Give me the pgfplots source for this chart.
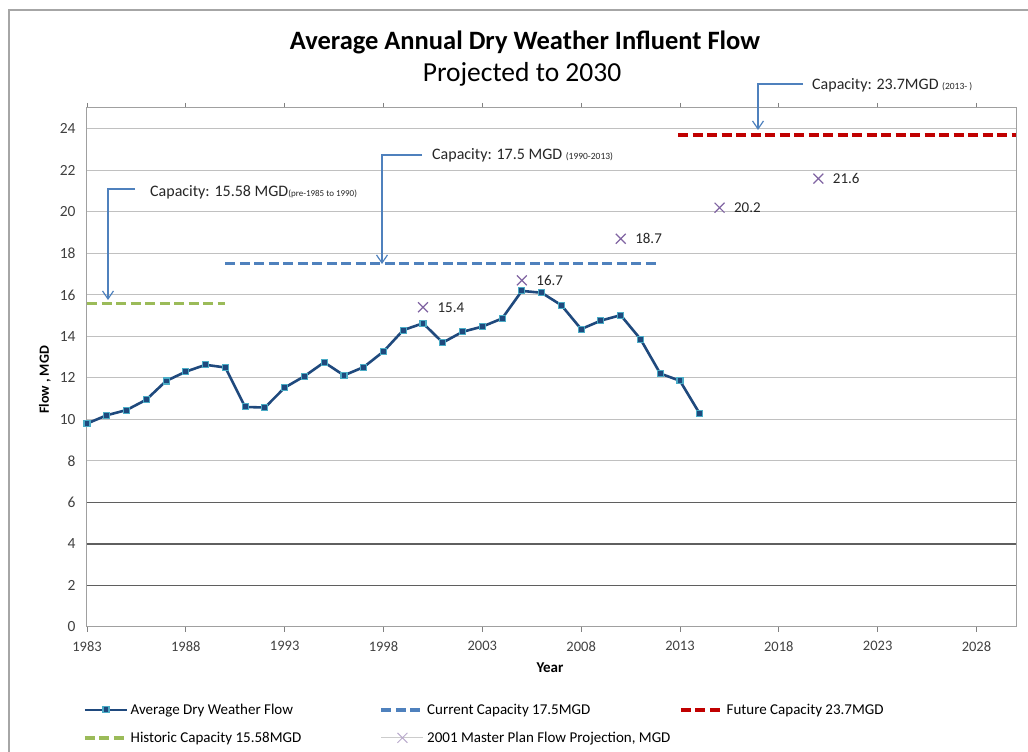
\documentclass[border=0pt]{standalone}
\usepackage{fontspec}
\setmainfont{Carlito}
\usepackage{pgfplots}
\usepackage{pgfplotstable}
\pgfplotsset{compat=1.18}
\usetikzlibrary{arrows.meta}
\definecolor{flowblue}{HTML}{1F497D}
\definecolor{markcyan}{HTML}{4BACC6}
\definecolor{capblue}{HTML}{4F81BD}
\definecolor{capred}{HTML}{C00000}
\definecolor{capgreen}{HTML}{9BBB59}
\definecolor{projpurple}{HTML}{8064A2}
\definecolor{gridgray}{HTML}{C0C0C0}
\definecolor{darkgrid}{HTML}{5F5F5F}
\definecolor{axisgray}{HTML}{A0A0A0}
\definecolor{textgray}{HTML}{404040}
\definecolor{framegray}{HTML}{A6A6A6}

\pgfplotstableread{
year flow
1983 9.80
1984 10.20
1985 10.45
1986 10.95
1987 11.85
1988 12.30
1989 12.63
1990 12.50
1991 10.60
1992 10.57
1993 11.53
1994 12.08
1995 12.75
1996 12.12
1997 12.52
1998 13.27
1999 14.30
2000 14.63
2001 13.70
2002 14.22
2003 14.47
2004 14.86
2005 16.19
2006 16.10
2007 15.50
2008 14.35
2009 14.76
2010 15.02
2011 13.87
2012 12.21
2013 11.86
2014 10.27
}\flowtable

\pgfplotstableread{
year proj
2000 15.4
2005 16.7
2010 18.7
2015 20.2
2020 21.6
}\projtable

\begin{document}
\begin{tikzpicture}[x=1pt,y=1pt]
\useasboundingbox (0,0) rectangle (1028,752);
\draw[framegray, line width=1.3pt] (9,0) -- (9,742) -- (1028,742);

\begin{axis}[
  at={(87pt,125pt)}, anchor=south west,
  scale only axis, width=929pt, height=519pt,
  xmin=1983, xmax=2030, ymin=0, ymax=25,
  xtick={1983,1988,...,2028},
  ytick={0,2,...,24},
  axis line style={draw=axisgray, line width=1pt},
  ymajorgrids, grid style={gridgray, line width=1pt},
  extra y ticks={2,4,6}, extra y tick labels={},
  extra y tick style={grid style={darkgrid, line width=1.4pt}, major tick length=0pt},
  tick align=outside, major tick length=5pt,
  xtick style={draw=gray, line width=0.8pt},
  ytick style={draw=none},
  xticklabel style={font=\fontsize{14.5}{16}\selectfont, text=textgray, yshift=-6pt},
  yticklabel style={font=\fontsize{15.5}{17}\selectfont, text=textgray, xshift=-3pt},
  /pgf/number format/assume math mode=true,
  /pgf/number format/1000 sep={},
  clip=false,
  legend columns=3,
  legend cell align=left,
  legend style={at={(axis description cs:-0.0043,-0.144)}, anchor=north west,
    draw=none, fill=none, inner sep=0pt, row sep=12pt, column sep=0pt,
    font=\fontsize{15}{17}\selectfont, cells={anchor=west}},
  legend image code/.code={\draw[mark repeat=2,mark phase=2,#1] plot coordinates {(0pt,0pt) (21pt,0pt) (42pt,0pt)};},
]
\addplot[flowblue, line width=2.6pt, mark=square*, mark size=3pt,
  mark options={fill=flowblue, draw=markcyan, line width=1.1pt, solid}]
  table[x=year,y=flow]{\flowtable};
\addlegendentry{\makebox[247pt][l]{Average Dry Weather Flow}}

\addplot[capblue, line width=3.5pt, dash pattern=on 10pt off 4.5pt]
  coordinates {(1990,17.5) (2011.8,17.5)};
\addlegendentry{\makebox[250pt][l]{Current Capacity 17.5MGD}}

\addplot[capred, line width=3.5pt, dash pattern=on 10pt off 4.5pt]
  coordinates {(2012.9,23.7) (2030,23.7)};
\addlegendentry{Future Capacity 23.7MGD}

\addplot[capgreen, line width=3.5pt, dash pattern=on 10pt off 4.5pt]
  coordinates {(1983,15.58) (1990,15.58)};
\addlegendentry{\makebox[247pt][l]{Historic Capacity 15.58MGD}}

\addplot[only marks, mark=x, mark size=7pt, projpurple, line width=1.2pt,
  nodes near coords, point meta=y,
  nodes near coords style={anchor=west, xshift=14pt, inner sep=0pt, text=black!85,
    font=\fontsize{15}{17}\selectfont,
    /pgf/number format/fixed, /pgf/number format/precision=1, /pgf/number format/fixed zerofill},
  legend image code/.code={\draw[black!20, line width=1.2pt] (0pt,0pt) -- (42pt,0pt);
    \draw[projpurple!55, line width=1pt] plot[mark=x, mark size=7pt] coordinates {(21pt,0pt)};}]
  table[x=year,y=proj]{\projtable};
\addlegendentry{2001 Master Plan Flow Projection, MGD}
\end{axis}

% titles
\node[anchor=base, font=\fontsize{26.5}{30}\selectfont\bfseries] at (525,702) {Average Annual Dry Weather Influent Flow};
\node[anchor=base, font=\fontsize{27.5}{30}\selectfont] at (522,670) {Projected to 2030};

% axis labels
\node[rotate=90, font=\fontsize{14}{16}\selectfont\bfseries] at (45,372) {Flow , MGD};
\node[font=\fontsize{15}{17}\selectfont\bfseries] at (550,84) {Year};

% annotations
\draw[capblue, line width=1.2pt, -{Straight Barb[length=8pt,width=11pt]}] (135,563) -- (108,563) -- (108,452);
\draw[capblue, line width=1.2pt, -{Straight Barb[length=8pt,width=11pt]}] (422,597) -- (382,597) -- (382,488);
\draw[capblue, line width=1.2pt, -{Straight Barb[length=8pt,width=11pt]}] (803,668) -- (758,668) -- (758,622);

\node[anchor=base west, inner sep=0pt, font=\fontsize{16}{18}\selectfont, text=black!85] at (150,555)
  {Capacity: 15.58 MGD{\fontsize{9}{11}\selectfont(pre-1985 to 1990)}};
\node[anchor=base west, inner sep=0pt, font=\fontsize{16}{18}\selectfont, text=black!85] at (432,592)
  {Capacity: 17.5 MGD {\fontsize{9.5}{11}\selectfont(1990-2013)}};
\node[anchor=base west, inner sep=0pt, font=\fontsize{16}{18}\selectfont, text=black!85] at (812,662)
  {Capacity: 23.7MGD {\fontsize{9.5}{11}\selectfont(2013- )}};
\end{tikzpicture}
\end{document}
